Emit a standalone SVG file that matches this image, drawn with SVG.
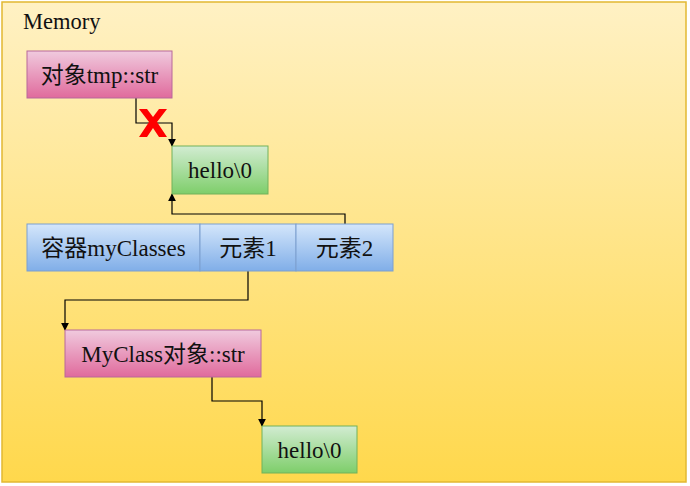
<svg xmlns="http://www.w3.org/2000/svg" width="690" height="486" viewBox="0 0 690 486">
<style>
.t{font-family:"Liberation Serif","Noto Sans CJK SC",serif;font-size:23px;fill:#111;text-anchor:middle;dominant-baseline:central}
.pink{fill:url(#gp);stroke:#b8689a;stroke-width:1}
.green{fill:url(#gg);stroke:#72b25a;stroke-width:1}
.blue{fill:url(#gb);stroke:#7c9fcf;stroke-width:1}
.c{fill:none;stroke:#000;stroke-width:1.2;marker-end:url(#ah)}
</style>
<defs>
<linearGradient id="bg" x1="0" y1="0" x2="0" y2="1"><stop offset="0" stop-color="#fff1c4"/><stop offset="1" stop-color="#ffd84c"/></linearGradient>
<linearGradient id="gp" x1="0" y1="0" x2="0" y2="1"><stop offset="0" stop-color="#f0cade"/><stop offset="1" stop-color="#e06a9c"/></linearGradient>
<linearGradient id="gg" x1="0" y1="0" x2="0" y2="1"><stop offset="0" stop-color="#d2ecd2"/><stop offset="1" stop-color="#7ece6a"/></linearGradient>
<linearGradient id="gb" x1="0" y1="0" x2="0" y2="1"><stop offset="0" stop-color="#d4e6fb"/><stop offset="1" stop-color="#80aee8"/></linearGradient>
<marker id="ah" viewBox="0 0 10 10" refX="9" refY="5" markerWidth="8" markerHeight="8" markerUnits="userSpaceOnUse" orient="auto"><path d="M0,0 L10,5 L0,10 z" fill="#000"/></marker>
</defs>
<rect x="2" y="2" width="684" height="480" fill="url(#bg)" stroke="#e2b832" stroke-width="1.5"/>
<text x="23" y="29" style="font-family:'Liberation Serif',serif;font-size:22.5px;fill:#111">Memory</text>
<g id="connectors">
<path class="c" d="M136,98 V123 H172 V146"/>
<path class="c" d="M345,224 V214 H172 V194"/>
<path class="c" d="M248,271 V300 H65 V330"/>
<path class="c" d="M212,377 V401 H262 V426"/>
</g>
<g id="tmp"><rect class="pink" x="27" y="51" width="145" height="47"/><text class="t" x="99.5" y="75">对象tmp::str</text></g>
<g id="hello1"><rect class="green" x="172" y="146" width="96" height="48"/><text class="t" x="220" y="170">hello\0</text></g>
<g id="container"><rect class="blue" x="27" y="224" width="173" height="47"/><text class="t" x="113.5" y="248">容器myClasses</text></g>
<g id="elem1"><rect class="blue" x="200" y="224" width="96" height="47"/><text class="t" x="248" y="248">元素1</text></g>
<g id="elem2"><rect class="blue" x="296" y="224" width="97" height="47"/><text class="t" x="344.5" y="248">元素2</text></g>
<g id="myclass"><rect class="pink" x="65" y="330" width="196" height="47"/><text class="t" x="163" y="354">MyClass对象::str</text></g>
<g id="hello2"><rect class="green" x="262" y="426" width="95" height="47"/><text class="t" x="309.5" y="450">hello\0</text></g>
<g id="cross"><path d="M139,109 L147,109 L153,117 L159,109 L167,109 L157,122 L167,137 L159,137 L153,128 L147,137 L139,137 L149,122 Z" fill="#ff0000"/></g>
</svg>
